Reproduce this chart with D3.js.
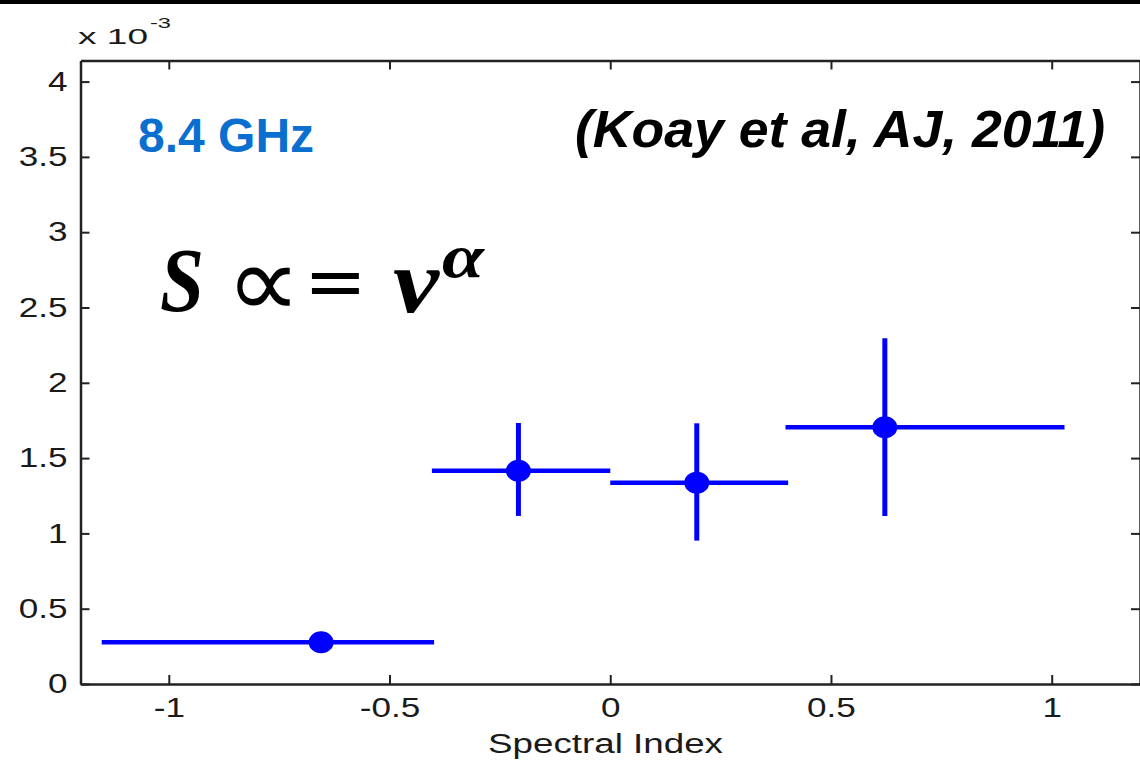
<!DOCTYPE html>
<html>
<head>
<meta charset="utf-8">
<script src="https://cdn.jsdelivr.net/npm/d3@7"></script>
<style>
  html, body { margin: 0; padding: 0; background: #fff; }
  svg { display: block; }
</style>
</head>
<body>
<svg id="chart" width="1140" height="764"></svg>
<script>
// Flux density (units of 1e-3) binned by spectral index, 8.4 GHz
const binCenter = [-0.655, -0.208, 0.196, 0.622];
const binLow    = [-1.152, -0.404, 0.000, 0.397];
const binHigh   = [-0.399,  0.000, 0.403, 1.029];
const flux      = [0.277, 1.416, 1.337, 1.705];
const fluxLow   = [0.277, 1.116, 0.952, 1.116];
const fluxHigh  = [0.277, 1.733, 1.731, 2.295];

const xTicks = [-1, -0.5, 0, 0.5, 1];
const yTicks = [0, 0.5, 1, 1.5, 2, 2.5, 3, 3.5, 4];
const xDomain = [-1.2, 1.2];
const yDomain = [0, 4.14];

const svg = d3.select("#chart");
const plotLeft = 80.5, plotRight = 1140, plotTop = 60.5, plotBottom = 684;

const x = d3.scaleLinear().domain(xDomain).range([plotLeft, plotRight]);
const y = d3.scaleLinear().domain(yDomain).range([plotBottom, plotTop]);

// frame bar along the upper edge
svg.append("rect").attr("x", 0).attr("y", 0).attr("width", 1140).attr("height", 4).attr("fill", "#000");

const axisColor = "#222";
const labelFont = "'Liberation Sans', Arial, sans-serif";
const stretch = 1.3;
const plainNumber = d => String(d);   // ASCII hyphen for negatives

function styleAxis(g) {
  g.select(".domain").attr("stroke", axisColor).attr("stroke-width", 2.5);
  g.selectAll(".tick line").attr("stroke", axisColor).attr("stroke-width", 2);
}

// bottom axis with labels
const gx = svg.append("g").attr("transform", `translate(0,${plotBottom})`)
  .call(d3.axisBottom(x).tickValues(xTicks).tickSize(-9).tickSizeOuter(0).tickPadding(14)
    .tickFormat(plainNumber));
styleAxis(gx);
gx.selectAll(".tick text")
  .attr("font-family", labelFont).attr("font-size", 27).attr("fill", "#1a1a1a")
  .attr("transform", `scale(${stretch},1)`);

// top axis (ticks only)
const gxt = svg.append("g").attr("transform", `translate(0,${plotTop})`)
  .call(d3.axisTop(x).tickValues(xTicks).tickSize(-9).tickSizeOuter(0).tickFormat(""));
styleAxis(gxt);

// left axis with labels
const gy = svg.append("g").attr("transform", `translate(${plotLeft},0)`)
  .call(d3.axisLeft(y).tickValues(yTicks).tickSize(-9).tickSizeOuter(0).tickFormat(plainNumber));
styleAxis(gy);
gy.selectAll(".tick text")
  .attr("x", 0)
  .attr("font-family", labelFont).attr("font-size", 27).attr("fill", "#1a1a1a")
  .attr("transform", `translate(-13,0) scale(${stretch},1)`);

// right axis (ticks only)
const gyr = svg.append("g").attr("transform", `translate(${plotRight},0)`)
  .call(d3.axisRight(y).tickValues(yTicks).tickSize(-9).tickSizeOuter(0).tickFormat(""));
styleAxis(gyr);

// exponent label above the y axis
svg.append("text").attr("x", 78).attr("y", 44)
  .attr("font-family", labelFont).attr("font-size", 22).attr("fill", "#1a1a1a")
  .attr("textLength", 70).attr("lengthAdjust", "spacingAndGlyphs").text("x 10");
svg.append("text").attr("x", 150).attr("y", 28)
  .attr("font-family", labelFont).attr("font-size", 15).attr("fill", "#1a1a1a")
  .attr("textLength", 21).attr("lengthAdjust", "spacingAndGlyphs").text("-3");

// x axis title
svg.append("text").attr("x", 488).attr("y", 753)
  .attr("font-family", labelFont).attr("font-size", 27).attr("fill", "#1a1a1a")
  .attr("textLength", 235).attr("lengthAdjust", "spacingAndGlyphs").text("Spectral Index");

// annotations
svg.append("text").attr("x", 138).attr("y", 152)
  .attr("font-family", labelFont).attr("font-size", 48).attr("font-weight", "bold")
  .attr("fill", "#0b6fd0").text("8.4 GHz");
svg.append("text").attr("x", 575).attr("y", 147)
  .attr("font-family", labelFont).attr("font-size", 52).attr("font-weight", "bold")
  .attr("font-style", "italic").attr("fill", "#000")
  .attr("textLength", 530).attr("lengthAdjust", "spacingAndGlyphs")
  .text("(Koay et al, AJ, 2011)");

// power-law relation
const serif = "'Liberation Serif', 'DejaVu Serif', serif";
const eq = svg.append("g").attr("fill", "#000");
eq.append("text").attr("x", 160).attr("y", 311).attr("font-family", serif)
  .attr("font-size", 92).attr("font-weight", "bold").attr("font-style", "italic")
  .attr("textLength", 44).attr("lengthAdjust", "spacingAndGlyphs").text("S");
// proportional-to sign and equals sign share one stretched text run
const rel = eq.append("text").attr("x", 0).attr("y", 0)
  .attr("font-family", "'DejaVu Sans', sans-serif").attr("font-size", 70)
  .attr("transform", "translate(226,317) scale(1.5,1.45)");
rel.append("tspan").attr("x", 0).attr("y", 0).attr("font-size", 70).text("\u221D");
rel.append("tspan").attr("x", 52).attr("y", -7).attr("font-size", 50).text("=");
eq.append("text").attr("x", 393).attr("y", 312).attr("font-family", serif)
  .attr("font-size", 92).attr("font-weight", "bold").attr("font-style", "italic")
  .attr("textLength", 46).attr("lengthAdjust", "spacingAndGlyphs").text("\u03BD");
eq.append("text").attr("x", 442).attr("y", 277).attr("font-family", serif)
  .attr("font-size", 62).attr("font-weight", "bold").attr("font-style", "italic")
  .attr("textLength", 42).attr("lengthAdjust", "spacingAndGlyphs").text("\u03B1");

// error bars and markers
const blue = "#0000ff";
const data = binCenter.map((c, i) => ({
  c, lo: binLow[i], hi: binHigh[i], v: flux[i], vlo: fluxLow[i], vhi: fluxHigh[i]
}));
const marks = svg.append("g");
marks.selectAll("line.h").data(data).join("line").attr("class", "h")
  .attr("x1", d => x(d.lo)).attr("x2", d => x(d.hi))
  .attr("y1", d => y(d.v)).attr("y2", d => y(d.v))
  .attr("stroke", blue).attr("stroke-width", 4.5);
marks.selectAll("line.v").data(data.filter(d => d.vhi > d.vlo)).join("line").attr("class", "v")
  .attr("x1", d => x(d.c)).attr("x2", d => x(d.c))
  .attr("y1", d => y(d.vlo)).attr("y2", d => y(d.vhi))
  .attr("stroke", blue).attr("stroke-width", 5);
marks.selectAll("ellipse").data(data).join("ellipse")
  .attr("cx", d => x(d.c)).attr("cy", d => y(d.v))
  .attr("rx", 11.5).attr("ry", 10)
  .attr("fill", blue).attr("stroke", blue).attr("stroke-width", 2);
</script>
</body>
</html>
